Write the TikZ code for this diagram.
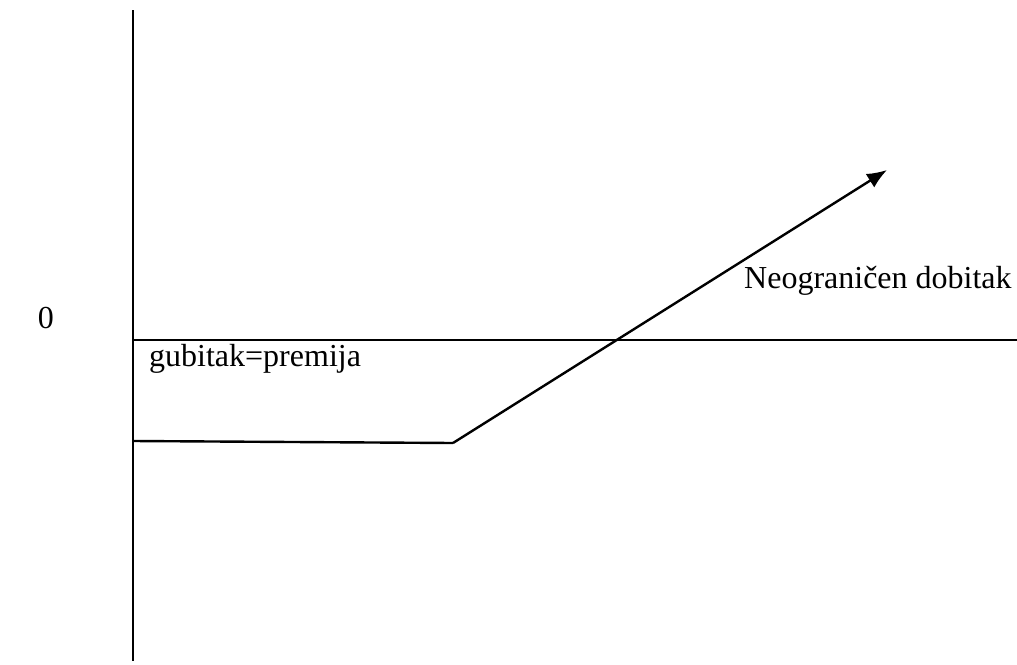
\documentclass[tikz,border=0pt]{standalone}
\usepackage{fontspec}
\setmainfont{Liberation Serif}
\usetikzlibrary{arrows,arrows.meta,positioning}

\begin{document}
\begin{tikzpicture}[x=0.5pt,y=-0.5pt,line width=1.2pt,
		lbl/.style={inner sep=0pt,font=\fontsize{16}{19}\selectfont}]
		\useasboundingbox (0,0) rectangle (1017,664);
		% axes
		\coordinate (top) at (133,10);
		\coordinate (bottom) at (133,661);
		\coordinate (zero) at (133,340);
		\coordinate (right) at (1017,340);
		\draw (top)--(bottom);
		\draw (zero)--(right);
		% payoff
		\coordinate (loss) at (133,441);
		\coordinate (strike) at (453,443);
		\coordinate (gain) at (887,170);
		\draw (loss)--(strike);
		\draw[-{Latex[length=10pt,width=8pt]}] (strike)--(gain);
		\node[lbl] (nula) at (46,318) {0};
		\node[lbl,anchor=west] (gubitak) at (148,359) {gubitak=premija};
		\node[lbl,anchor=west] (dobitak) at (743,281) {Neograničen dobitak};
	\end{tikzpicture}
\end{document}
